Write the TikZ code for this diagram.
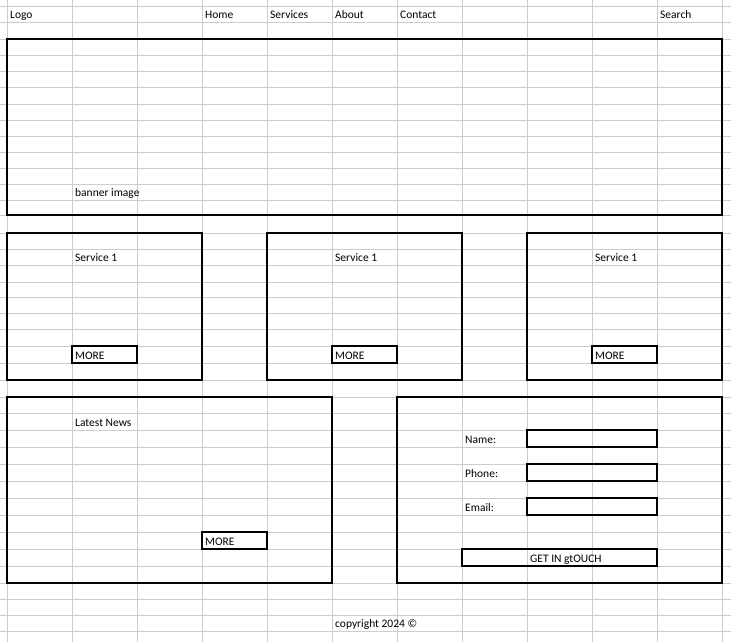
\documentclass[tikz,border=0pt]{standalone}
\usepackage{fontspec}
\setmainfont{Carlito}

\begin{document}
\begin{tikzpicture}[x=1pt, y=-1pt,
    gridline/.style={draw=black!20, line width=0.9pt},
    box/.style={draw=black, line width=2.2pt},
    cell/.style={anchor=base west, inner sep=0pt, font=\fontsize{11.5}{13}\selectfont}]

    % Size of the sheet
    \useasboundingbox (0,0) rectangle (731,642);
    \fill[white] (0,0) rectangle (731,642);

    % Grid of the sheet: columns and rows
    \foreach \xx in {7,72,...,722}
        \draw[gridline] (\xx,0) -- (\xx,642);
    \foreach \yy in {6,22,39,55,71,87,104,120,136,152,168,184,200,215,233,249,265,282,297,313,329,346,363,380,397,413,430,447,464,481,498,515,532,549,566,583,599,615,631}
        \draw[gridline] (0,\yy) -- (731,\yy);

    % Menu row
    \node[cell] (logo) at (10,18.5) {Logo};
    \node[cell] (home) at (205,18.5) {Home};
    \node[cell] (services) at (270,18.5) {Services};
    \node[cell] (about) at (335,18.5) {About};
    \node[cell] (contact) at (400,18.5) {Contact};
    \node[cell] (search) at (660,18.5) {Search};

    % Banner
    \draw[box] (7,39) rectangle (722,215);
    \node[cell] (banner) at (75,196.5) {banner image};

    % Three service boxes, each with its button
    \foreach \sx [count=\i] in {7,267,527} {
        \draw[box] (\sx,233) rectangle ({\sx+195},380);
        \node[cell] (service\i) at ({\sx+68},261.5) {Service 1};
        \draw[box] ({\sx+65},346) rectangle ({\sx+130},363);
        \node[cell] (more\i) at ({\sx+68},359) {MORE};
    }

    % Latest news
    \draw[box] (7,397) rectangle (332,583);
    \node[cell] (news) at (75,426) {Latest News};
    \draw[box] (202,532) rectangle (267,549);
    \node[cell] (newsmore) at (205,545) {MORE};

    % Contact form
    \draw[box] (397,397) rectangle (722,583);
    \node[cell] (name) at (465,443) {Name:};
    \draw[box] (527,430) rectangle (657,447);
    \node[cell] (phone) at (465,477) {Phone:};
    \draw[box] (527,464) rectangle (657,481);
    \node[cell] (email) at (465,511) {Email:};
    \draw[box] (527,498) rectangle (657,515);
    \draw[box] (462,549) rectangle (657,566);
    \node[cell] (touch) at (530,562) {GET IN gtOUCH};

    % Footer
    \node[cell] (copyright) at (335,627.5) {copyright 2024 ©};
\end{tikzpicture}
\end{document}
